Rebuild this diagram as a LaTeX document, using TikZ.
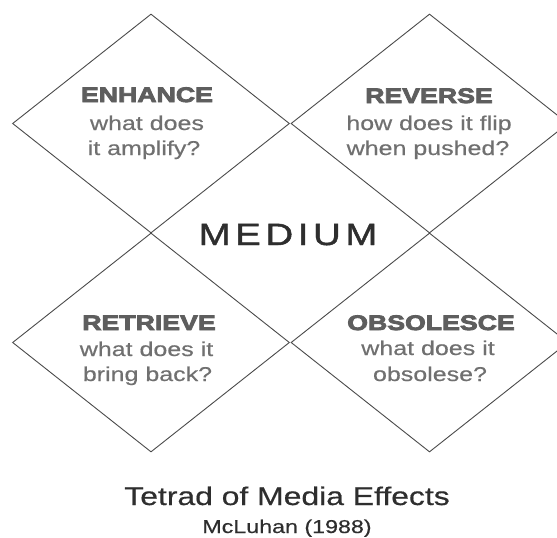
\documentclass[tikz,border=0pt]{standalone}
\usepackage{fontspec}
\setmainfont{Liberation Sans}
\newfontfamily\headfont[FakeStretch=1.27, FakeBold=4]{Liberation Sans Bold}
\newfontfamily\bodyfont[FakeStretch=1.25, FakeBold=0.5]{Liberation Sans}
\newfontfamily\midfont[FakeStretch=1.25, FakeBold=1.5, LetterSpace=15]{Liberation Sans}
\usetikzlibrary{shapes.geometric, positioning}
\definecolor{linegray}{HTML}{4a4a4a}
\definecolor{headgray}{HTML}{5e5e5e}
\definecolor{askgray}{HTML}{707070}
\definecolor{darkgray}{HTML}{2e2e2e}

\begin{document}
\begin{tikzpicture}[x=1pt, y=-1pt,
    tile/.style={shape=diamond, draw=linegray, line width=0.9pt, minimum width=277pt, minimum height=219pt, inner sep=0pt},
    head/.style={anchor=base, inner sep=0pt, text=headgray, font=\headfont\fontsize{21}{25}\selectfont},
    ask/.style={anchor=base, inner sep=0pt, text=askgray, font=\bodyfont\fontsize{20}{24}\selectfont}]
  \useasboundingbox (0,0) rectangle (557,538);
  \clip (0,0) rectangle (557,538);
  % the four quadrants
  \node[tile] at (151, 123.5) (enhance) {};
  \node[tile] at (429.5, 123.5) (reverse) {};
  \node[tile] at (151, 342.5) (retrieve) {};
  \node[tile] at (429.5, 342.5) (obsolesce) {};
  % texts
  \node[head] at (147, 102) (enhance-h) {ENHANCE};
  \node[ask] at (147, 130) (enhance-a) {what does};
  \node[ask] at (144, 155) (enhance-b) {it amplify?};
  \node[head] at (429, 103) (reverse-h) {REVERSE};
  \node[ask] at (429, 130) (reverse-a) {how does it flip};
  \node[ask] at (428, 155) (reverse-b) {when pushed?};
  \node[head] at (149, 330) (retrieve-h) {RETRIEVE};
  \node[ask] at (146.5, 356) (retrieve-a) {what does it};
  \node[ask] at (147.5, 381) (retrieve-b) {bring back?};
  \node[head] at (431, 330) (obsolesce-h) {OBSOLESCE};
  \node[ask] at (428, 355) (obsolesce-a) {what does it};
  \node[ask] at (430, 381) (obsolesce-b) {obsolese?};
  \node[anchor=base, inner sep=0pt, text=darkgray, font=\midfont\fontsize{30.7}{34}\selectfont] at (288, 245) (medium) {MEDIUM};
  % caption
  \node[anchor=base, inner sep=0pt, text=darkgray, font=\bodyfont\fontsize{25.5}{30}\selectfont] at (287, 505) (title) {Tetrad of Media Effects};
  \node[anchor=base, inner sep=0pt, text=darkgray, font=\bodyfont\fontsize{18.6}{22}\selectfont] at (287, 533) (source) {McLuhan (1988)};
\end{tikzpicture}
\end{document}
